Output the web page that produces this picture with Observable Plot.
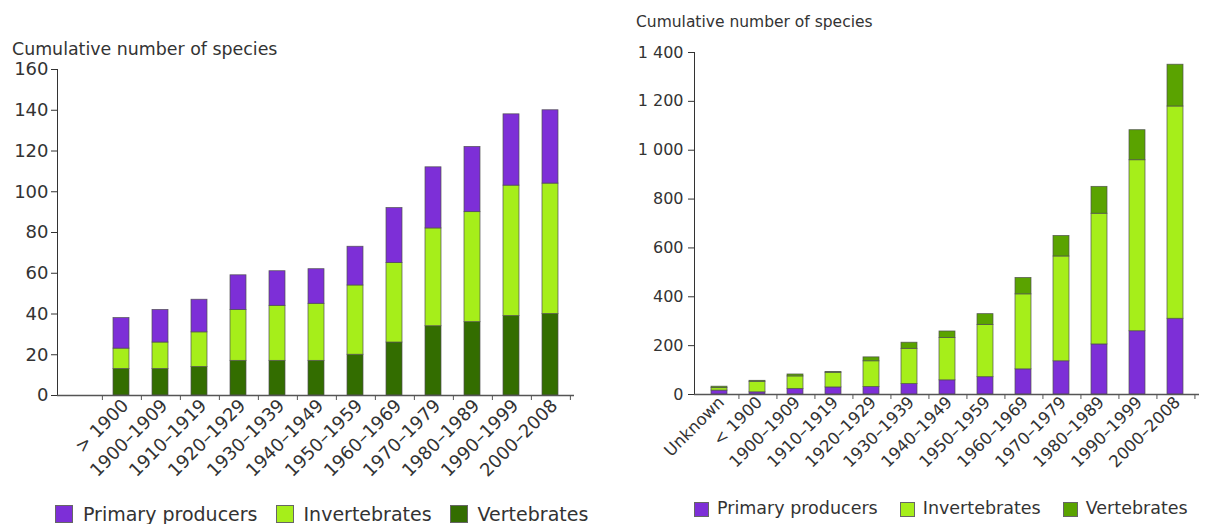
<!DOCTYPE html>
<html>
<head>
<meta charset="utf-8">
<script src="https://cdn.jsdelivr.net/npm/d3@7"></script>
<script src="https://cdn.jsdelivr.net/npm/@observablehq/plot@0.6"></script>
<style>
  body { margin: 0; background: #fff; font-family: "DejaVu Sans", Verdana, sans-serif; color: #333; }
  #root { position: relative; width: 1206px; height: 524px; overflow: hidden; background: #fff; }
  .title { position: absolute; white-space: nowrap; line-height: 1; color: #333; }
  .legend { position: absolute; display: flex; align-items: center; white-space: nowrap; line-height: 1; color: #333; }
  .sw { display: inline-block; box-sizing: border-box; border: 1px solid #666; }
</style>
</head>
<body>
<div id="root"></div>
<script>
// ---------- data ----------
const groups = ["Primary producers", "Invertebrates", "Vertebrates"];

// Left chart (stack bottom→top: Vertebrates, Invertebrates, Primary producers)
const leftTitle = "Cumulative number of species";
const leftDomain = [" ", "> 1900", "1900–1909", "1910–1919", "1920–1929", "1930–1939", "1940–1949",
  "1950–1959", "1960–1969", "1970–1979", "1980–1989", "1990–1999", "2000–2008"];
const leftPeriods = ["> 1900", "1900–1909", "1910–1919", "1920–1929", "1930–1939", "1940–1949",
  "1950–1959", "1960–1969", "1970–1979", "1980–1989", "1990–1999", "2000–2008"];
const leftVertebrates   = [13, 13, 14, 17, 17, 17, 20, 26, 34, 36, 39, 40];
const leftInvertebrates = [10, 13, 17, 25, 27, 28, 34, 39, 48, 54, 64, 64];
const leftPrimary       = [15, 16, 16, 17, 17, 17, 19, 27, 30, 32, 35, 36];
const leftYTicks = [0, 20, 40, 60, 80, 100, 120, 140, 160];
const leftColors = ["#7d2fd7", "#a6ee1a", "#336d00"];
const leftOrder = ["Vertebrates", "Invertebrates", "Primary producers"];

// Right chart (stack bottom→top: Primary producers, Invertebrates, Vertebrates)
const rightTitle = "Cumulative number of species";
const rightPeriods = ["Unknown", "< 1900", "1900–1909", "1910–1919", "1920–1929", "1930–1939", "1940–1949",
  "1950–1959", "1960–1969", "1970–1979", "1980–1989", "1990–1999", "2000–2008"];
const rightPrimary       = [16, 9, 23, 29, 31, 43, 58, 71, 103, 136, 205, 259, 310];
const rightInvertebrates = [10, 43, 51, 60, 105, 144, 173, 214, 307, 429, 535, 700, 869];
const rightVertebrates   = [6, 4, 8, 3, 16, 25, 27, 44, 67, 84, 110, 123, 171];
const rightYTicks = [0, 200, 400, 600, 800, 1000, 1200, 1400];
const rightYTickLabels = ["0", "200", "400", "600", "800", "1 000", "1 200", "1 400"];
const rightColors = ["#7d2fd7", "#a6ee1a", "#5aa300"];
const rightOrder = ["Primary producers", "Invertebrates", "Vertebrates"];

// ---------- build rows ----------
const leftRows = [];
leftPeriods.forEach((p, i) => {
  leftRows.push({period: p, group: "Vertebrates", value: leftVertebrates[i]});
  leftRows.push({period: p, group: "Invertebrates", value: leftInvertebrates[i]});
  leftRows.push({period: p, group: "Primary producers", value: leftPrimary[i]});
});
const rightRows = [];
rightPeriods.forEach((p, i) => {
  rightRows.push({period: p, group: "Primary producers", value: rightPrimary[i]});
  rightRows.push({period: p, group: "Invertebrates", value: rightInvertebrates[i]});
  rightRows.push({period: p, group: "Vertebrates", value: rightVertebrates[i]});
});

const root = document.getElementById("root");

function makeChart(cfg) {
  const step = (cfg.width - cfg.marginLeft - cfg.marginRight) / cfg.domain.length;
  const p = cfg.padding;
  const svg = Plot.plot({
    width: cfg.width,
    height: cfg.height,
    marginLeft: cfg.marginLeft,
    marginRight: cfg.marginRight,
    marginTop: cfg.marginTop,
    marginBottom: cfg.marginBottom,
    style: {fontFamily: '"DejaVu Sans", Verdana, sans-serif', fontSize: cfg.tickFont + "px", color: "#333", background: "transparent", overflow: "visible"},
    x: {domain: cfg.domain, paddingInner: p, paddingOuter: p / 2, axis: null},
    y: {domain: cfg.yDomain, ticks: cfg.yTicks, tickFormat: cfg.yFormat, tickSize: 6, tickPadding: cfg.yPad, line: true, label: null},
    color: {domain: groups, range: cfg.colors},
    marks: [
      Plot.barY(cfg.rows, {x: "period", y: "value", fill: "group", order: cfg.order, stroke: "#4d4d4d", strokeWidth: 0.8, strokeOpacity: 0.85}),
      Plot.ruleY([0], {stroke: "#555", strokeWidth: 1.4}),
      Plot.axisX({tickSize: 5, tickFormat: () => "", dx: step / 2, stroke: "#555", label: null}),
      Plot.axisX({tickSize: 0, tickPadding: 5, tickRotate: -45, fontSize: cfg.xFont, dx: cfg.xdx, dy: cfg.xdy, label: null, fill: "#333"})
    ]
  });
  svg.style.position = "absolute";
  svg.style.left = cfg.left + "px";
  svg.style.top = "0px";
  return svg;
}

root.appendChild(makeChart({
  left: 0, width: 600, height: 490,
  marginLeft: 57, marginRight: 26, marginTop: 69, marginBottom: 95,
  domain: leftDomain, padding: 0.6, yDomain: [0, 160], yTicks: leftYTicks,
  yFormat: d => String(d), colors: leftColors, order: leftOrder, rows: leftRows,
  tickFont: 18, xFont: 18, yPad: 3, xdx: 4, xdy: 2
}));

root.appendChild(makeChart({
  left: 620, width: 586, height: 470,
  marginLeft: 74, marginRight: 7, marginTop: 52, marginBottom: 76,
  domain: rightPeriods, padding: 0.59, yDomain: [0, 1400], yTicks: rightYTicks,
  yFormat: d => rightYTickLabels[rightYTicks.indexOf(d)], colors: rightColors, order: rightOrder, rows: rightRows,
  tickFont: 16, xFont: 16.5, yPad: 5, xdx: 2, xdy: 0
}));

// titles
function addTitle(text, x, top, size) {
  const t = document.createElement("div");
  t.className = "title";
  t.textContent = text;
  t.style.left = x + "px";
  t.style.top = top + "px";
  t.style.fontSize = size + "px";
  root.appendChild(t);
}
addTitle(leftTitle, 12, 41, 17.4);
addTitle(rightTitle, 636, 15, 15.5);

// legends
function addLegend(x, yCenter, colors, sw, fontSize, gaps) {
  const lg = document.createElement("div");
  lg.className = "legend";
  lg.style.left = x + "px";
  lg.style.top = (yCenter - 12) + "px";
  lg.style.height = "24px";
  lg.style.fontSize = fontSize + "px";
  groups.forEach((g, i) => {
    const s = document.createElement("span");
    s.className = "sw";
    s.style.width = sw + "px";
    s.style.height = sw + "px";
    s.style.background = colors[i];
    s.style.marginRight = gaps[0] + "px";
    if (i > 0) s.style.marginLeft = gaps[1] + "px";
    const t = document.createElement("span");
    t.textContent = g;
    lg.appendChild(s);
    lg.appendChild(t);
  });
  root.appendChild(lg);
}
addLegend(55, 514, leftColors, 18, 19, [10, 18]);
addLegend(694, 509, rightColors, 15, 17.5, [8, 22]);
</script>
</body>
</html>
